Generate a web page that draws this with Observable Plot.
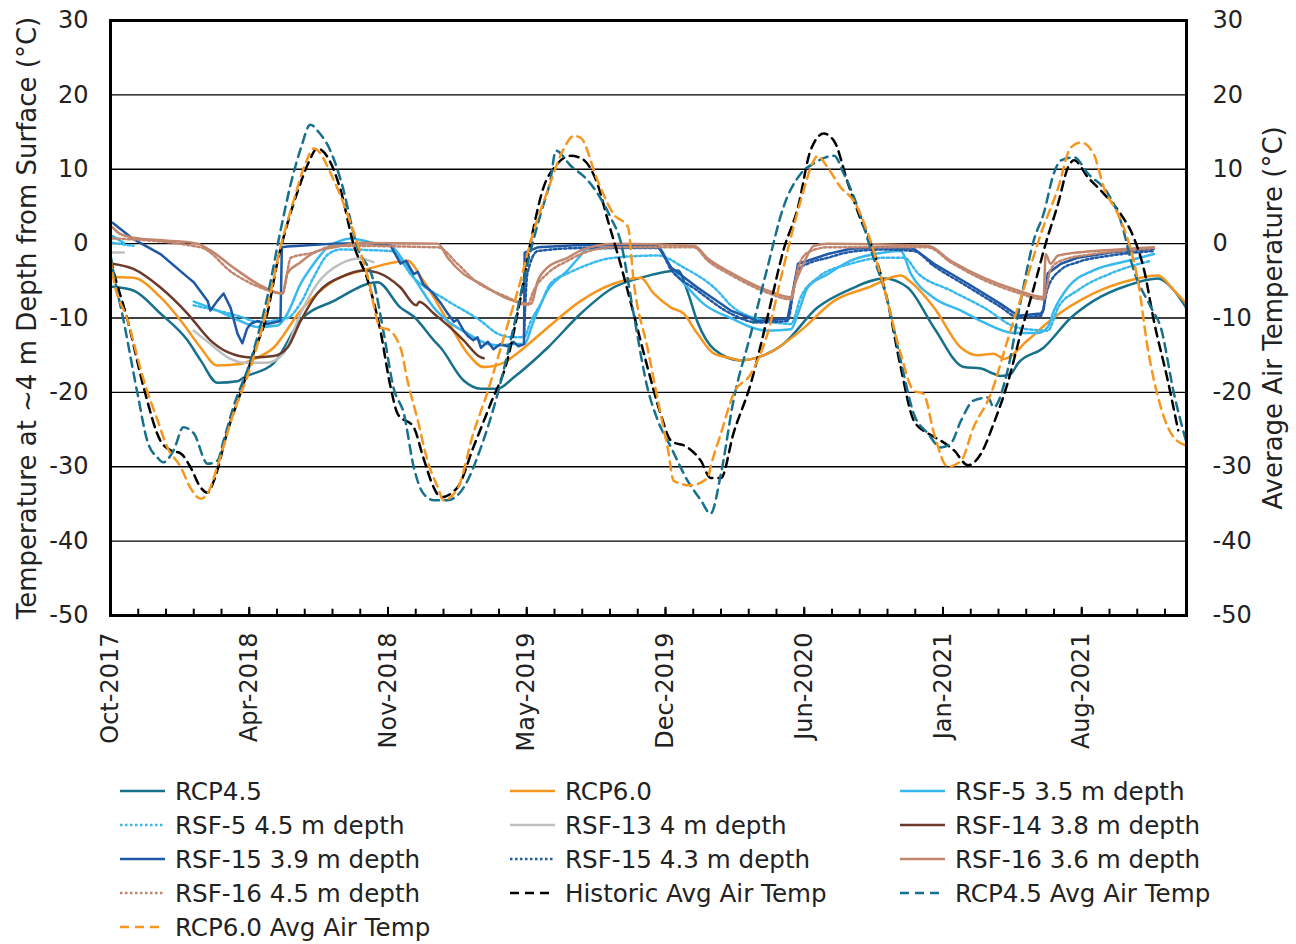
<!DOCTYPE html>
<html>
<head>
<meta charset="utf-8">
<script src="https://cdn.jsdelivr.net/npm/d3@7"></script>
<script src="https://cdn.jsdelivr.net/npm/@observablehq/plot@0.6"></script>
<style>
  body { margin: 0; background: #fff; font-family: "DejaVu Sans", sans-serif; }
  #wrap { position: relative; width: 1296px; height: 944px; }
  #legend { position: absolute; left: 0; top: 0; width: 1296px; height: 944px; pointer-events: none; }
  .item { position: absolute; display: flex; align-items: center; height: 34px; font-size: 24.6px; color: #222; white-space: nowrap; }
  .item svg { margin-right: 10px; }
  g[aria-label="y-axis label"] text { font-size: 26px; }
</style>
</head>
<body>
<div id="wrap"><div id="chart"></div><div id="legend"></div></div>
<script>
// ---- Ground temperature (~4 m depth) and average air temperature, °C ----

const rcp45 = [
  ["2017-10-04", -5.8], ["2017-11-03", -6.3], ["2017-12-12", -9.4], ["2018-01-20", -13], ["2018-02-08", -15.7],
  ["2018-03-04", -18.7], ["2018-04-02", -18.5], ["2018-04-11", -18], ["2018-05-24", -16.1], ["2018-07-02", -10.3],
  ["2018-08-19", -7.7], ["2018-10-21", -5.2], ["2018-11-23", -8.6], ["2018-12-12", -9.8], ["2019-01-10", -13],
  ["2019-01-20", -14], ["2019-02-22", -18.4], ["2019-03-19", -19.5], ["2019-04-12", -19.5], ["2019-05-05", -18],
  ["2019-06-23", -14], ["2019-08-10", -9.4], ["2019-09-26", -5.9], ["2019-11-04", -4.6], ["2019-12-28", -3.6],
  ["2020-01-11", -6.5], ["2020-01-25", -10.5], ["2020-02-18", -14.2], ["2020-03-27", -15.7], ["2020-04-21", -15.3],
  ["2020-05-28", -13.5], ["2020-07-16", -8.6], ["2020-09-02", -6.1], ["2020-10-20", -4.7], ["2020-11-23", -5.9],
  ["2020-12-31", -11.3], ["2021-02-12", -16.6], ["2021-03-09", -16.8], ["2021-03-27", -17.5], ["2021-04-06", -17.8],
  ["2021-04-21", -17.5], ["2021-05-01", -16.1], ["2021-06-07", -14], ["2021-07-16", -10], ["2021-08-18", -7.7],
  ["2021-10-07", -5.6], ["2021-11-19", -4.7], ["2021-12-12", -6.3], ["2022-01-01", -9]
];

const rcp60 = [
  ["2017-10-04", -4.5], ["2017-11-03", -4.6], ["2017-12-12", -7.2], ["2018-01-14", -10.8], ["2018-02-08", -14],
  ["2018-03-04", -16.4], ["2018-04-06", -16.2], ["2018-04-21", -15.7], ["2018-05-24", -14], ["2018-07-02", -9],
  ["2018-08-19", -5], ["2018-10-07", -3.4], ["2018-12-03", -2.3], ["2018-12-26", -5], ["2019-01-30", -10.4],
  ["2019-02-28", -14.8], ["2019-03-23", -16.6], ["2019-04-21", -16], ["2019-05-15", -14.4], ["2019-06-23", -11.3],
  ["2019-08-10", -7.7], ["2019-09-26", -5.4], ["2019-11-04", -4.6], ["2019-11-23", -6.7], ["2019-12-18", -8.6],
  ["2020-01-05", -9.4], ["2020-01-25", -12.1], ["2020-02-18", -14.8], ["2020-03-13", -15.4], ["2020-03-27", -15.7],
  ["2020-05-05", -14.8], ["2020-06-22", -11.7], ["2020-08-09", -7.7], ["2020-09-27", -5.9], ["2020-11-13", -4.3],
  ["2020-11-28", -5.2], ["2020-12-31", -8.6], ["2021-02-08", -14], ["2021-03-04", -15], ["2021-03-27", -14.8],
  ["2021-04-11", -15.5], ["2021-05-15", -13], ["2021-06-17", -10.3], ["2021-08-18", -6.7], ["2021-10-07", -5],
  ["2021-11-19", -4.3], ["2021-12-12", -6.3], ["2022-01-01", -8.3]
];

const rsf5_35 = [
  ["2017-10-04", 1.0], ["2017-10-20", 0.1], ["2017-10-21", null],
  ["2018-01-29", -7.8], ["2018-03-04", -9], ["2018-04-06", -10.4], ["2018-05-01", -11.2], ["2018-05-30", -11],
  ["2018-06-13", -9.4], ["2018-07-02", -5.4], ["2018-07-21", -2.7], ["2018-08-10", -0.5], ["2018-08-29", 0.4],
  ["2018-09-12", 0.7], ["2018-10-15", 0.1], ["2018-11-09", -0.3], ["2018-12-03", -3.2], ["2018-12-22", -6],
  ["2019-01-10", -8.6], ["2019-01-30", -10.4], ["2019-02-28", -12.1], ["2019-03-29", -13.5], ["2019-04-16", -13.7],
  ["2019-05-05", -13.5], ["2019-05-20", -13.5], ["2019-06-03", -10.4], ["2019-06-23", -6.3], ["2019-07-22", -3.6],
  ["2019-08-07", -1.9], ["2019-08-20", -0.7], ["2019-11-29", -0.5], ["2019-12-18", -3.2], ["2020-01-11", -5.9],
  ["2020-02-03", -8.1], ["2020-03-13", -10], ["2020-05-05", -11.7], ["2020-06-08", -11.5], ["2020-06-18", -9.4],
  ["2020-07-02", -5.9], ["2020-07-31", -4.1], ["2020-09-02", -2.3], ["2020-10-20", -1.2], ["2020-11-13", -1],
  ["2020-11-28", -4.1], ["2020-12-31", -7.3], ["2021-02-08", -9], ["2021-03-13", -10.6], ["2021-04-25", -12],
  ["2021-05-30", -12], ["2021-06-13", -11.2], ["2021-06-22", -9], ["2021-07-12", -5.9], ["2021-08-18", -3.6],
  ["2021-10-07", -2.3], ["2021-11-13", -1.4]
];

const rsf5_45 = [
  ["2017-10-04", 0.1], ["2017-11-03", -0.3], ["2017-11-04", null],
  ["2018-01-29", -8.3], ["2018-03-04", -9], ["2018-04-06", -9.8], ["2018-05-01", -10.5], ["2018-06-13", -10],
  ["2018-07-02", -8], ["2018-07-21", -4.5], ["2018-08-10", -1.5], ["2018-08-29", -0.8], ["2018-11-09", -1],
  ["2018-12-12", -4.6], ["2019-01-30", -7.7], ["2019-03-19", -10.4], ["2019-04-12", -12.1], ["2019-05-05", -12.6],
  ["2019-05-20", -12.6], ["2019-05-30", -10.4], ["2019-06-13", -8.1], ["2019-06-27", -5.4], ["2019-07-22", -4],
  ["2019-08-10", -3.2], ["2019-09-26", -1.9], ["2019-11-29", -1.6], ["2020-01-05", -3.2], ["2020-02-18", -5.9],
  ["2020-03-17", -8.6], ["2020-05-05", -10.4], ["2020-06-08", -10.8], ["2020-06-22", -7.2], ["2020-07-16", -4.6],
  ["2020-09-02", -2.7], ["2020-10-20", -1.9], ["2020-11-18", -1.9], ["2020-12-08", -4], ["2021-01-24", -6.3],
  ["2021-03-13", -8.6], ["2021-05-01", -11.3], ["2021-06-13", -11.7], ["2021-06-28", -8.6], ["2021-07-26", -6.3],
  ["2021-09-12", -4], ["2021-11-09", -2.3]
];

const rsf13_4 = [
  ["2017-10-04", -1.2], ["2017-10-20", -1.2], ["2017-10-21", null],
  ["2018-01-29", -11.7], ["2018-02-22", -13.5], ["2018-03-23", -15.5], ["2018-04-11", -16], ["2018-05-15", -16],
  ["2018-06-07", -14.8], ["2018-07-02", -9.4], ["2018-07-26", -5.4], ["2018-08-29", -2.7], ["2018-09-26", -2],
  ["2018-10-15", -2.5]
];

const rsf14_38 = [
  ["2017-10-04", -2.7], ["2017-11-03", -3.4], ["2017-12-12", -5.9], ["2018-01-20", -9.4], ["2018-02-22", -13],
  ["2018-03-19", -14.6], ["2018-04-21", -15.3], ["2018-05-24", -15.1], ["2018-06-13", -14], ["2018-07-02", -10.4],
  ["2018-07-26", -6.7], ["2018-08-29", -4.5], ["2018-10-01", -3.6], ["2018-10-21", -3.9], ["2018-11-23", -5.9],
  ["2018-12-16", -8.3], ["2018-12-20", -7.8], ["2019-01-10", -9.4], ["2019-02-03", -11.3], ["2019-02-22", -13],
  ["2019-03-19", -15.3], ["2019-03-23", -15.4]
];

const rsf15_39 = [
  ["2017-10-04", 2.8], ["2017-11-03", 0.6], ["2017-12-12", -1.4], ["2018-01-20", -4.5], ["2018-01-29", -5.2],
  ["2018-02-18", -7.7], ["2018-02-22", -9], ["2018-03-04", -7.7], ["2018-03-13", -6.7], ["2018-03-23", -8.6],
  ["2018-04-02", -12.1], ["2018-04-09", -13.4], ["2018-04-16", -11.4], ["2018-04-21", -10.8], ["2018-05-01", -10.4],
  ["2018-05-15", -10.8], ["2018-06-03", -10.4], ["2018-06-05", -0.5], ["2018-06-13", -0.4], ["2018-07-02", -0.3],
  ["2018-08-19", 0], ["2018-10-07", 0.1], ["2018-11-09", -0.3], ["2018-11-23", -2.7], ["2018-12-01", -2.3],
  ["2018-12-12", -4.1], ["2018-12-18", -3.8], ["2018-12-26", -5.5], ["2019-01-05", -6.3], ["2019-01-10", -6.8],
  ["2019-01-20", -8], ["2019-01-30", -9.4], ["2019-02-08", -10.5], ["2019-02-13", -10.2], ["2019-02-22", -11.7],
  ["2019-03-01", -12.5], ["2019-03-08", -13], ["2019-03-14", -12.6], ["2019-03-19", -14], ["2019-03-29", -13.2],
  ["2019-04-06", -14.2], ["2019-04-16", -13.5], ["2019-04-26", -13.8], ["2019-05-05", -13.2], ["2019-05-12", -13.8],
  ["2019-05-20", -13.5], ["2019-05-21", -1.2], ["2019-06-09", -0.5], ["2019-08-10", -0.2], ["2019-11-29", -0.3],
  ["2019-12-18", -3.2], ["2020-01-25", -5.9], ["2020-03-13", -9], ["2020-04-21", -10.4], ["2020-06-03", -10.1],
  ["2020-06-08", -7.7], ["2020-06-18", -2.7], ["2020-07-02", -2.3], ["2020-07-31", -1.4], ["2020-09-02", -0.7],
  ["2020-10-20", -0.5], ["2020-12-02", -0.7], ["2020-12-31", -2.7], ["2021-02-18", -5.4], ["2021-04-06", -8.1],
  ["2021-05-01", -9.7], ["2021-06-03", -9.4], ["2021-06-07", -8.9], ["2021-06-13", -4], ["2021-07-02", -2.7],
  ["2021-07-26", -1.9], ["2021-09-12", -1.2], ["2021-11-13", -0.7]
];

const rsf15_43 = [
  ["2019-05-20", -12.5], ["2019-05-25", -4], ["2019-06-09", -1], ["2019-08-10", -0.6], ["2019-11-29", -0.6],
  ["2019-12-18", -3.5], ["2020-01-25", -6.3], ["2020-03-13", -9.4], ["2020-04-21", -10.6], ["2020-06-03", -10.4],
  ["2020-06-12", -6], ["2020-06-18", -3.5], ["2020-07-02", -2.7], ["2020-07-31", -1.9], ["2020-09-02", -1.1],
  ["2020-10-20", -0.8], ["2020-12-02", -1], ["2020-12-31", -3], ["2021-02-18", -5.8], ["2021-04-06", -8.5],
  ["2021-05-01", -9.9], ["2021-06-03", -9.7], ["2021-06-13", -6], ["2021-07-02", -3.5], ["2021-07-26", -2.5],
  ["2021-09-12", -1.6], ["2021-11-13", -1.0]
];

const rsf16_36 = [
  ["2017-10-04", 2.2], ["2017-10-15", 1.3], ["2017-11-03", 0.8], ["2017-12-22", 0.4], ["2018-02-03", 0],
  ["2018-02-22", -0.9], ["2018-03-27", -3.2], ["2018-05-01", -5.4], ["2018-06-06", -6.7], ["2018-06-13", -4],
  ["2018-07-02", -2.5], ["2018-07-21", -1.2], ["2018-08-19", -0.5], ["2018-09-26", 0.1], ["2019-01-16", 0],
  ["2019-01-30", -1.9], ["2019-02-22", -4.1], ["2019-03-19", -5.4], ["2019-04-26", -7.4], ["2019-05-30", -8.1],
  ["2019-06-09", -5], ["2019-06-23", -3.2], ["2019-07-22", -1.9], ["2019-08-10", -0.9], ["2019-09-26", 0],
  ["2020-01-20", -0.3], ["2020-02-09", -2], ["2020-03-13", -3.9], ["2020-05-05", -6.3], ["2020-06-08", -7.2],
  ["2020-06-12", -5.9], ["2020-06-26", -2.7], ["2020-07-11", -0.3], ["2020-07-31", 0], ["2020-12-22", -0.3],
  ["2021-01-24", -2.3], ["2021-03-13", -4.6], ["2021-05-01", -6.3], ["2021-06-07", -7.2], ["2021-06-10", -1.4],
  ["2021-06-17", -2.7], ["2021-06-28", -1.6], ["2021-08-18", -1], ["2021-10-07", -0.7], ["2021-11-13", -0.5]
];

const rsf16_45 = [
  ["2017-10-04", 0.7], ["2018-02-08", -0.5], ["2018-03-27", -4], ["2018-05-05", -5.9], ["2018-06-06", -6.7],
  ["2018-06-18", -1.9], ["2018-07-21", -1.2], ["2018-08-19", -0.3], ["2019-01-16", -0.5], ["2019-02-13", -2.7],
  ["2019-03-08", -4.8], ["2019-04-26", -7.2], ["2019-05-25", -8.3], ["2019-06-03", -6.3], ["2019-06-23", -4],
  ["2019-07-22", -2.3], ["2019-08-10", -1.4], ["2019-09-26", -0.5], ["2020-01-20", -0.5], ["2020-02-09", -2.3],
  ["2020-03-13", -4.2], ["2020-05-05", -6.6], ["2020-06-08", -7.5], ["2020-06-18", -3.3], ["2020-07-02", -1.2],
  ["2020-07-31", -0.5], ["2020-12-22", -0.5], ["2021-01-24", -2.5], ["2021-03-13", -4.9], ["2021-05-01", -6.6],
  ["2021-06-07", -7.5], ["2021-06-17", -3.5], ["2021-07-02", -2.3], ["2021-08-18", -1.4], ["2021-10-07", -0.9],
  ["2021-11-13", -0.6]
];

const historicAir = [
  ["2017-10-01", -2], ["2017-10-04", -3.2], ["2017-10-26", -10.4], ["2017-11-18", -19.4], ["2017-12-12", -26.5],
  ["2017-12-27", -27.8], ["2018-01-10", -28.2], ["2018-01-24", -30], ["2018-02-08", -32.8], ["2018-02-18", -33.5],
  ["2018-02-27", -31.9], ["2018-03-19", -25.1], ["2018-04-06", -20.2], ["2018-04-25", -14.8], ["2018-05-15", -9.4],
  ["2018-05-30", -2.3], ["2018-06-13", 2.7], ["2018-06-28", 7.1], ["2018-07-14", 11], ["2018-07-26", 12.8],
  ["2018-08-29", 7.1], ["2018-09-16", 0], ["2018-10-07", -5], ["2018-10-25", -11.7], ["2018-11-09", -19.4],
  ["2018-11-19", -22.9], ["2018-12-12", -24.7], ["2018-12-26", -28.8], ["2019-01-10", -32.8], ["2019-01-20", -34.1],
  ["2019-02-13", -32.8], ["2019-03-08", -27.4], ["2019-04-02", -21.5], ["2019-04-26", -15.7], ["2019-05-15", -7.3],
  ["2019-05-30", 0.4], ["2019-06-17", 7.5], ["2019-07-05", 10.5], ["2019-07-26", 11.8], ["2019-08-10", 11.5],
  ["2019-09-03", 8], ["2019-09-18", 3.1], ["2019-10-06", -2.7], ["2019-10-25", -9.4], ["2019-11-14", -16.6],
  ["2019-12-03", -22.9], ["2019-12-18", -26.5], ["2020-01-11", -27.4], ["2020-01-30", -29.2], ["2020-02-13", -31.5],
  ["2020-02-28", -31.5], ["2020-03-17", -25.5], ["2020-04-11", -18.8], ["2020-05-05", -9.9], ["2020-05-28", -0.9],
  ["2020-06-18", 4.9], ["2020-07-06", 12.5], ["2020-07-25", 14.8], ["2020-08-09", 13.8], ["2020-08-29", 8.1],
  ["2020-09-17", 3.1], ["2020-10-01", 0], ["2020-10-25", -7.7], ["2020-11-13", -16.6], ["2020-12-02", -23.8],
  ["2020-12-22", -25.5], ["2021-01-10", -26.5], ["2021-01-29", -27.8], ["2021-02-18", -29.8], ["2021-03-09", -28.2],
  ["2021-03-27", -24.2], ["2021-04-16", -18.8], ["2021-05-05", -12.1], ["2021-05-24", -5.9], ["2021-06-10", 0],
  ["2021-06-28", 5.4], ["2021-07-12", 10.2], ["2021-07-21", 11.2], ["2021-08-10", 8.9], ["2021-09-02", 6.7],
  ["2021-09-26", 4], ["2021-10-15", 0.8], ["2021-10-30", -3.6], ["2021-11-13", -10.4], ["2021-12-03", -18.4],
  ["2021-12-18", -25.1]
];

const rcp45Air = [
  ["2017-10-01", -1.5], ["2017-10-04", -3.2], ["2017-10-20", -10.4], ["2017-11-09", -20.2], ["2017-11-23", -26.5],
  ["2017-12-08", -28.8], ["2017-12-16", -29.4], ["2017-12-31", -27.8], ["2018-01-14", -24.7], ["2018-01-29", -25.5],
  ["2018-02-18", -29.6], ["2018-03-04", -29.2], ["2018-03-13", -26.5], ["2018-03-27", -22], ["2018-04-21", -15.7],
  ["2018-05-15", -7.2], ["2018-06-03", 1.7], ["2018-06-18", 8.1], ["2018-07-03", 13], ["2018-07-16", 16],
  ["2018-07-28", 15], ["2018-08-14", 12.5], ["2018-08-29", 8.5], ["2018-09-22", -0.5], ["2018-10-15", -5],
  ["2018-10-30", -12.1], ["2018-11-13", -19.4], ["2018-11-28", -22.9], ["2018-12-12", -30], ["2018-12-26", -33.6],
  ["2019-01-10", -34.5], ["2019-01-30", -34.5], ["2019-02-22", -32.8], ["2019-03-19", -27.4], ["2019-04-12", -20.2],
  ["2019-05-05", -11.3], ["2019-05-25", -2.7], ["2019-06-13", 4], ["2019-06-27", 8.5], ["2019-07-05", 12.5],
  ["2019-07-26", 10.5], ["2019-08-20", 8.5], ["2019-09-22", 3.5], ["2019-10-06", 0.4], ["2019-10-25", -9.4],
  ["2019-11-14", -19.4], ["2019-11-29", -23.8], ["2019-12-18", -27.4], ["2020-01-11", -31.9], ["2020-01-30", -34.5],
  ["2020-02-13", -36.3], ["2020-02-28", -30.9], ["2020-03-17", -21.1], ["2020-04-11", -12.1], ["2020-05-05", -3.2],
  ["2020-05-28", 4.9], ["2020-06-22", 9.4], ["2020-07-11", 10.8], ["2020-08-09", 11.8], ["2020-08-23", 9.4],
  ["2020-09-12", 4.9], ["2020-09-30", -0.5], ["2020-10-25", -7.7], ["2020-11-13", -15.7], ["2020-12-02", -22.9],
  ["2020-12-22", -25.5], ["2021-01-10", -27.4], ["2021-01-24", -26.9], ["2021-02-08", -23.8], ["2021-02-26", -21.1],
  ["2021-03-19", -20.7], ["2021-03-27", -22], ["2021-04-16", -17.1], ["2021-05-05", -7.7], ["2021-05-24", 0.5],
  ["2021-06-07", 4], ["2021-06-22", 9.5], ["2021-07-02", 11.2], ["2021-07-21", 11.6], ["2021-08-10", 9.4],
  ["2021-09-08", 6.7], ["2021-09-26", 3.1], ["2021-10-15", -3.6], ["2021-11-09", -8.6], ["2021-11-23", -11.3],
  ["2021-12-12", -20.2], ["2022-01-01", -27.4]
];

const rcp60Air = [
  ["2017-10-01", -2], ["2017-10-04", -4], ["2017-10-26", -10.4], ["2017-11-18", -18.4], ["2017-12-08", -23.8],
  ["2017-12-22", -27.4], ["2018-01-10", -30], ["2018-01-24", -32.8], ["2018-02-08", -34.3], ["2018-02-18", -33.6],
  ["2018-03-04", -30], ["2018-03-27", -22.9], ["2018-04-21", -16.6], ["2018-05-15", -8.6], ["2018-06-03", -0.5],
  ["2018-06-22", 5.8], ["2018-07-10", 11], ["2018-07-21", 12.8], ["2018-08-19", 8.5], ["2018-09-16", 1.7],
  ["2018-10-07", -4.5], ["2018-10-25", -11.3], ["2018-11-04", -11.5], ["2018-11-23", -14], ["2018-12-03", -18.4],
  ["2018-12-18", -23.8], ["2019-01-01", -29.2], ["2019-01-16", -32.8], ["2019-01-24", -34.5], ["2019-02-13", -33],
  ["2019-03-08", -25.5], ["2019-03-29", -19.8], ["2019-04-21", -12.6], ["2019-05-15", -5], ["2019-05-30", 0.4],
  ["2019-06-23", 7.1], ["2019-07-15", 12.5], ["2019-07-31", 14.5], ["2019-08-10", 14.2], ["2019-09-03", 8.5],
  ["2019-09-26", 4], ["2019-10-17", 2.2], ["2019-10-25", -5], ["2019-11-14", -14], ["2019-12-03", -22.9],
  ["2019-12-13", -27.4], ["2019-12-22", -31.9], ["2020-01-15", -32.5], ["2020-02-09", -31.5], ["2020-02-13", -30],
  ["2020-02-28", -25.5], ["2020-03-17", -20.2], ["2020-04-11", -17.5], ["2020-05-05", -12.1], ["2020-05-28", -3.2],
  ["2020-06-22", 5.8], ["2020-07-11", 11.2], ["2020-07-16", 11.8], ["2020-07-31", 10.2], ["2020-08-19", 7.5],
  ["2020-09-06", 5.8], ["2020-09-27", 1.3], ["2020-10-20", -5.9], ["2020-11-13", -14.8], ["2020-12-02", -19.8],
  ["2020-12-16", -20.2], ["2020-12-31", -25.5], ["2021-01-20", -30], ["2021-02-08", -29.2], ["2021-02-26", -24.7],
  ["2021-03-23", -20.2], ["2021-04-16", -13], ["2021-05-10", -5.9], ["2021-06-03", 1.3], ["2021-06-28", 7.5],
  ["2021-07-16", 12.9], ["2021-07-31", 13.6], ["2021-08-18", 12.1], ["2021-09-02", 7.5], ["2021-09-22", 4],
  ["2021-10-07", 0.4], ["2021-10-21", -5], ["2021-11-04", -14], ["2021-11-23", -22], ["2021-12-12", -26.1],
  ["2022-01-01", -27.2]
];

// Axis ticks and labels
const yTicks = [-50, -40, -30, -20, -10, 0, 10, 20, 30];
const majorTickDates = ["2017-10-01", "2018-04-19", "2018-11-05", "2019-05-24", "2019-12-10", "2020-06-27", "2021-01-13", "2021-08-01"];
const leftTitle = "Temperature at ~4 m Depth from Surface (°C)";
const rightTitle = "Average Air Temperature (°C)";

// Series drawing styles, in legend order
const TEAL = "#17708c", ORANGE = "#f7961e", SKY = "#38b9ee", GREY = "#bfbfbf",
      BROWN = "#6b3a2b", NAVY = "#1f58a5", ROSE = "#c2866f";
const DASH = "9,6", DOT = "2.5,2.5";
const series = [
  { name: "RCP4.5", data: rcp45, color: TEAL, dash: null },
  { name: "RCP6.0", data: rcp60, color: ORANGE, dash: null },
  { name: "RSF-5 3.5 m depth", data: rsf5_35, color: SKY, dash: null },
  { name: "RSF-5 4.5 m depth", data: rsf5_45, color: SKY, dash: DOT },
  { name: "RSF-13 4 m depth", data: rsf13_4, color: GREY, dash: null },
  { name: "RSF-14 3.8 m depth", data: rsf14_38, color: BROWN, dash: null },
  { name: "RSF-15 3.9 m depth", data: rsf15_39, color: NAVY, dash: null, curve: "linear" },
  { name: "RSF-15 4.3 m depth", data: rsf15_43, color: NAVY, dash: DOT },
  { name: "RSF-16 3.6 m depth", data: rsf16_36, color: ROSE, dash: null },
  { name: "RSF-16 4.5 m depth", data: rsf16_45, color: ROSE, dash: DOT },
  { name: "Historic Avg Air Temp", data: historicAir, color: "#000000", dash: DASH },
  { name: "RCP4.5 Avg Air Temp", data: rcp45Air, color: TEAL, dash: DASH },
  { name: "RCP6.0 Avg Air Temp", data: rcp60Air, color: ORANGE, dash: DASH }
];

const parse = d3.utcParse("%Y-%m-%d");
const xStart = parse("2017-10-01");
const xEnd = d3.utcDay.offset(xStart, 1551);
const majorTicks = majorTickDates.map(parse);
const minorTicks = d3.utcDay.range(xStart, xEnd, 1).filter((d, i) => i % 40 === 0);

const lineMarks = series.map(s => Plot.line(
  s.data.map(([d, v]) => ({ date: parse(d), value: v })),
  {
    x: "date", y: "value", stroke: s.color, strokeWidth: 2.5,
    strokeDasharray: s.dash ?? undefined,
    curve: s.curve ?? "monotone-x", clip: true
  }
));

const plain = d => String(d);

const chart = Plot.plot({
  width: 1296,
  height: 770,
  marginLeft: 110,
  marginRight: 110,
  marginTop: 20,
  marginBottom: 155,
  style: { fontFamily: "DejaVu Sans, sans-serif", fontSize: "24px", color: "#222", background: "#fff" },
  x: { type: "utc", domain: [xStart, xEnd] },
  y: { domain: [-50, 30] },
  marks: [
    Plot.ruleY(yTicks, { stroke: "#000", strokeWidth: 1.3 }),
    ...lineMarks,
    Plot.ruleX(minorTicks, { y1: -50, y2: -49.15, stroke: "#000", strokeWidth: 2 }),
    Plot.ruleX(majorTicks, { y1: -50, y2: -48.9, stroke: "#000", strokeWidth: 2 }),
    Plot.frame({ stroke: "#000", strokeWidth: 3 }),
    Plot.axisY({
      ticks: yTicks, tickFormat: plain, tickSize: 0, tickPadding: 22, fontSize: 24,
      label: leftTitle, labelAnchor: "center", labelArrow: "none", labelOffset: 93
    }),
    Plot.axisY({
      anchor: "right", ticks: yTicks, tickFormat: plain, tickSize: 0, tickPadding: 26, fontSize: 24,
      label: rightTitle, labelAnchor: "center", labelArrow: "none", labelOffset: 95
    }),
    Plot.axisX({
      ticks: majorTicks, tickFormat: d3.utcFormat("%b-%Y"), tickRotate: -90,
      tickSize: 0, tickPadding: 17, fontSize: 24, label: null
    })
  ]
});
document.getElementById("chart").appendChild(chart);

// Legend: three columns, row-major order
const legend = document.getElementById("legend");
const colX = [120, 510, 900];
series.forEach((s, i) => {
  const row = Math.floor(i / 3), col = i % 3;
  const item = document.createElement("div");
  item.className = "item";
  item.style.left = colX[col] + "px";
  item.style.top = (774 + row * 34) + "px";
  const sw = d3.create("svg").attr("width", 45).attr("height", 10);
  sw.append("line").attr("x1", 0).attr("x2", 45).attr("y1", 5).attr("y2", 5)
    .attr("stroke", s.color).attr("stroke-width", 2.5)
    .attr("stroke-dasharray", s.dash);
  item.appendChild(sw.node());
  const label = document.createElement("span");
  label.textContent = s.name;
  item.appendChild(label);
  legend.appendChild(item);
});
</script>
</body>
</html>
